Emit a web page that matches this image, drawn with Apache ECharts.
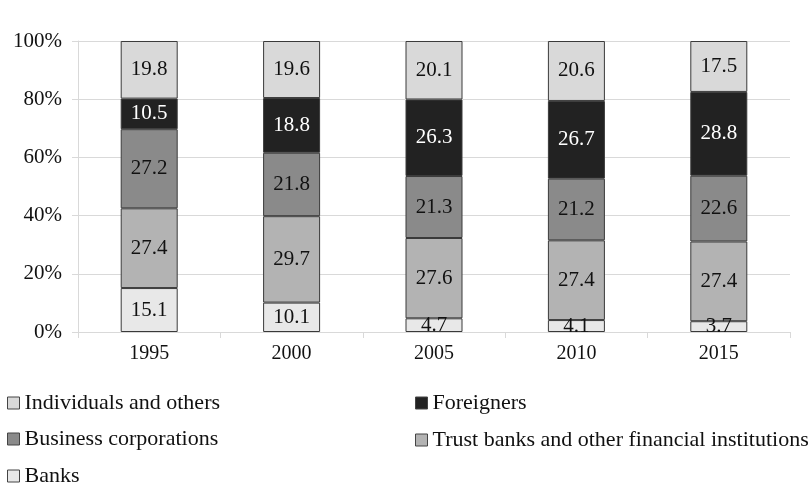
<!DOCTYPE html>
<html>
<head>
<meta charset="utf-8">
<script src="https://cdn.jsdelivr.net/npm/echarts@6/dist/echarts.min.js"></script>
<style>
  html, body { margin: 0; padding: 0; background: #fff; }
  #chart { width: 808px; height: 491px; }
</style>
</head>
<body>
<div id="chart"></div>
<script>
// share of ownership (%) by investor type
var years = ['1995', '2000', '2005', '2010', '2015'];
var banks = [15.1, 10.1, 4.7, 4.1, 3.7];
var trustBanks = [27.4, 29.7, 27.6, 27.4, 27.4];
var businessCorps = [27.2, 21.8, 21.3, 21.2, 22.6];
var foreigners = [10.5, 18.8, 26.3, 26.7, 28.8];
var individuals = [19.8, 19.6, 20.1, 20.6, 17.5];
var yTicks = [0, 20, 40, 60, 80, 100];

var serif = 'Liberation Serif';
var myChart = echarts.init(document.getElementById('chart'));

function makeSeries(name, data, color, labelColor) {
    return {
        name: name,
        type: 'bar',
        stack: 'total',
        barWidth: 57,
        data: data,
        itemStyle: { color: color, borderColor: '#3a3a3a', borderWidth: 1 },
        label: {
            show: true,
            position: 'inside',
            color: labelColor,
            fontFamily: serif,
            fontSize: 21,
            formatter: function (p) { return p.value.toFixed(1); }
        },
        emphasis: { disabled: true }
    };
}

function legendAt(name, left, top) {
    return {
        data: [name],
        left: left,
        top: top,
        icon: 'rect',
        itemWidth: 12,
        itemHeight: 12,
        itemGap: 0,
        padding: 0,
        textStyle: { fontFamily: serif, fontSize: 22, color: '#111', padding: [0, 0, 0, 0] },
        itemStyle: { borderColor: '#444', borderWidth: 1 }
    };
}

var option = {
    animation: false,
    grid: { left: 78, right: 18, top: 41, bottom: 159 },
    legend: [
        legendAt('Individuals and others', 7, 392),
        legendAt('Foreigners', 415, 392),
        legendAt('Business corporations', 7, 428),
        legendAt('Trust banks and other financial institutions', 415, 429),
        legendAt('Banks', 7, 465)
    ],
    xAxis: {
        type: 'category',
        data: years,
        axisLine: { lineStyle: { color: '#d9d9d9' } },
        axisTick: { show: true, length: 6, lineStyle: { color: '#d9d9d9' } },
        axisLabel: { fontFamily: serif, fontSize: 20, color: '#111', margin: 12 }
    },
    yAxis: {
        type: 'value',
        min: yTicks[0],
        max: yTicks[yTicks.length - 1],
        interval: 20,
        axisLine: { show: true, lineStyle: { color: '#d9d9d9' } },
        axisTick: { show: true, length: 6, lineStyle: { color: '#d9d9d9' } },
        splitLine: { lineStyle: { color: '#d9d9d9' } },
        axisLabel: { fontFamily: serif, fontSize: 21, color: '#111', margin: 16, formatter: '{value}%' }
    },
    series: [
        makeSeries('Banks', banks, '#e8e8e8', '#111'),
        makeSeries('Trust banks and other financial institutions', trustBanks, '#b3b3b3', '#111'),
        makeSeries('Business corporations', businessCorps, '#8a8a8a', '#111'),
        makeSeries('Foreigners', foreigners, '#222222', '#fff'),
        makeSeries('Individuals and others', individuals, '#d9d9d9', '#111')
    ]
};
myChart.setOption(option);
</script>
</body>
</html>
